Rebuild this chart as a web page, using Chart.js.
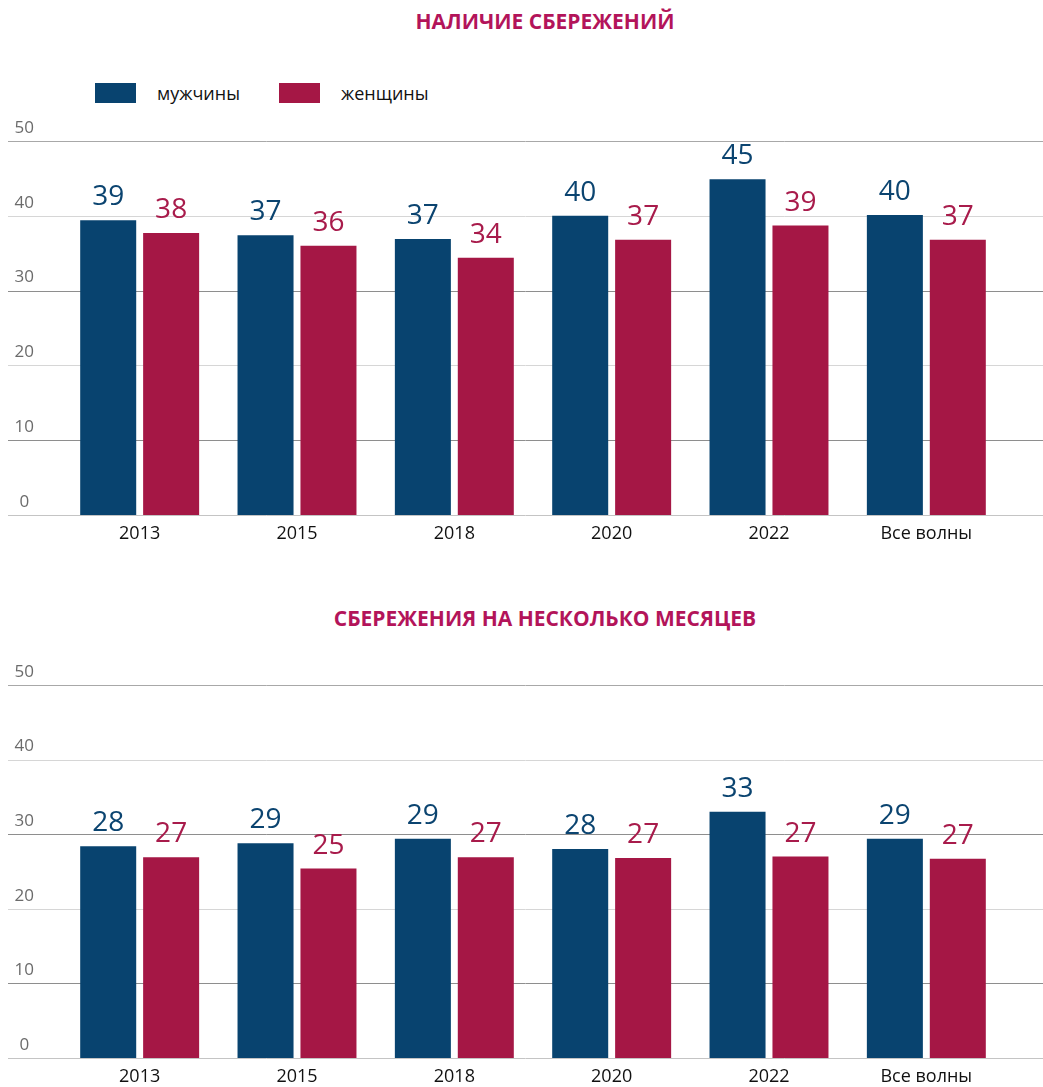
<!DOCTYPE html>
<html lang="ru">

<head>
  <meta charset="UTF-8" />
  <meta name="viewport" content="width=device-width, initial-scale=1.0" />
  <title>Сбережения</title>
  <script src="https://cdn.jsdelivr.net/npm/chart.js"></script>
  <style>
    body {
      margin: 0;
      background: #fff;
      font-family: "Open Sans", sans-serif;
    }

    .wrap {
      position: relative;
      width: 1043px;
      height: 1087px;
    }

    .title {
      position: absolute;
      left: 0;
      width: 1090px;
      text-align: center;
      color: #b3145a;
      font-weight: 700;
      font-size: 21px;
      line-height: 24px;
    }

    #legend01 {
      position: absolute;
      left: 95px;
      top: 83px;
      display: flex;
      font-size: 18px;
      line-height: 20px;
      color: #111;
    }

    #legend01 .item {
      display: flex;
      align-items: center;
      margin-right: 39px;
    }

    #legend01 .box {
      width: 41px;
      height: 20px;
      margin-right: 21px;
    }

    .box-chart {
      position: absolute;
      left: 0;
      width: 1043px;
    }
  </style>
</head>

<body>
  <div class="wrap">
    <div class="title" style="top: 9px">НАЛИЧИЕ СБЕРЕЖЕНИЙ</div>
    <div id="legend01"></div>
    <div class="box-chart" style="top: 110px; height: 440px">
      <canvas id="myChart01"></canvas>
    </div>

    <div class="title" style="top: 606px">СБЕРЕЖЕНИЯ НА НЕСКОЛЬКО МЕСЯЦЕВ</div>
    <div class="box-chart" style="top: 650px; height: 437px">
      <canvas id="myChart02"></canvas>
    </div>
  </div>

  <script>
    // данные
    const labels = ["2013", "2015", "2018", "2020", "2022", "Все волны"];
    const seriesNames = ["мужчины", "женщины"];
    const men01 = [39.4, 37.4, 36.9, 40.0, 44.9, 40.1];
    const women01 = [37.7, 36.0, 34.4, 36.8, 38.7, 36.8];
    const men02 = [28.4, 28.8, 29.4, 28.0, 33.0, 29.4];
    const women02 = [26.9, 25.4, 26.9, 26.8, 27.0, 26.7];
    const yTicks = [0, 10, 20, 30, 40, 50];

    const barColors = ["#08436f", "#a51745"];
    const textColors = ["#0b4470", "#a81b4b"];

    var mychart01;
    var mychart02;

    // линии сетки на всю ширину
    const fullGrid = {
      id: "fullGrid",
      beforeDatasetsDraw(chart) {
        const ctx = chart.ctx;
        const y = chart.scales.y;
        ctx.save();
        ctx.lineWidth = 1;
        yTicks.forEach((v) => {
          const py = Math.round(y.getPixelForValue(v)) + 0.5;
          if (v === 0) ctx.strokeStyle = "#c4c4c4";
          else if ((v / 10) % 2 === 1) ctx.strokeStyle = "#8e8e8e";
          else ctx.strokeStyle = "#d6d6d6";
          if (v === 50) ctx.strokeStyle = "#a8a8a8";
          ctx.beginPath();
          ctx.moveTo(8, py);
          ctx.lineTo(chart.width, py);
          ctx.stroke();
        });
        ctx.restore();
      },
    };

    // подписи значений над столбцами
    const valueLabels = {
      id: "valueLabels",
      afterDatasetsDraw(chart) {
        const ctx = chart.ctx;
        ctx.save();
        ctx.font = "28px 'Open Sans'";
        ctx.textAlign = "center";
        ctx.textBaseline = "alphabetic";
        chart.data.datasets.forEach((ds, i) => {
          const meta = chart.getDatasetMeta(i);
          ctx.fillStyle = textColors[i];
          meta.data.forEach((bar, j) => {
            ctx.fillText(Math.round(ds.data[j]), bar.x, bar.y - 15);
          });
        });
        ctx.restore();
      },
    };

    function makeLegend() {
      const el = document.getElementById("legend01");
      seriesNames.forEach((name, i) => {
        const item = document.createElement("div");
        item.className = "item";
        item.innerHTML =
          '<span class="box" style="background:' + barColors[i] + '"></span><span>' + name + "</span>";
        el.appendChild(item);
      });
    }

    function makeChart(canvasId, menData, womenData, padTop, padBottom, xHeight) {
      const ctx = document.getElementById(canvasId);
      return new Chart(ctx, {
        type: "bar",
        data: {
          labels: labels,
          datasets: [
            {
              label: seriesNames[0],
              data: menData,
              backgroundColor: barColors[0],
              categoryPercentage: 0.8,
              barPercentage: 0.89,
            },
            {
              label: seriesNames[1],
              data: womenData,
              backgroundColor: barColors[1],
              categoryPercentage: 0.8,
              barPercentage: 0.89,
            },
          ],
        },
        options: {
          responsive: true,
          maintainAspectRatio: false,
          animation: false,
          layout: {
            padding: { top: padTop, bottom: padBottom, left: 0, right: 38 },
          },
          plugins: {
            legend: { display: false },
            tooltip: { enabled: false },
          },
          scales: {
            x: {
              grid: { display: false, drawTicks: false },
              border: { display: false },
              ticks: {
                color: "#111",
                padding: 8,
                font: { family: "Open Sans", size: 18 },
              },
              afterFit: (scale) => {
                scale.height = xHeight;
                scale.paddingLeft = 0;
                scale.paddingRight = 0;
              },
            },
            y: {
              min: 0,
              max: 50,
              afterBuildTicks: (scale) => {
                scale.ticks = yTicks.map((v) => ({ value: v }));
              },
              grid: { display: false, drawTicks: false },
              border: { display: false },
              ticks: {
                color: "#6b6b6b",
                crossAlign: "center",
                padding: 27,
                labelOffset: -13,
                font: { family: "Open Sans", size: 17 },
              },
              afterFit: (scale) => {
                scale.width = 61;
                scale.paddingTop = 0;
                scale.paddingBottom = 0;
              },
            },
          },
        },
        plugins: [fullGrid, valueLabels],
      });
    }

    makeLegend();
    mychart01 = makeChart("myChart01", men01, women01, 31, 5, 30);
    mychart02 = makeChart("myChart02", men02, women02, 35, 4, 25);
  </script>
</body>

</html>
